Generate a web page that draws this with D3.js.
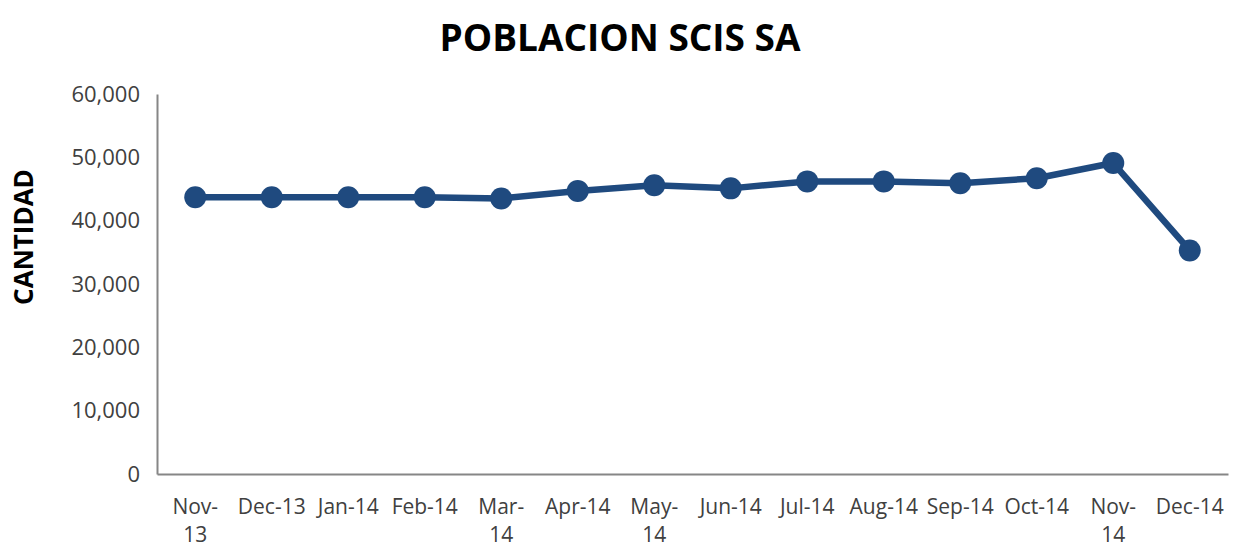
<!doctype html>
<html>
	<head>
		<script type="text/javascript" src="https://cdn.jsdelivr.net/npm/d3@7"></script>
		<style>
			body { margin: 0; background: #fff; }
			text { font-family: "Open Sans", "Liberation Sans", sans-serif; }
		</style>
	</head>
	<body>
		<div id="container"></div>
		<script>
			// months and their printed labels (some wrap onto two lines)
			var months = ["Nov-13","Dec-13","Jan-14","Feb-14","Mar-14","Apr-14","May-14",
				"Jun-14","Jul-14","Aug-14","Sep-14","Oct-14","Nov-14","Dec-14"];
			var monthLabels = [["Nov-","13"],["Dec-13"],["Jan-14"],["Feb-14"],["Mar-","14"],["Apr-14"],["May-","14"],
				["Jun-14"],["Jul-14"],["Aug-14"],["Sep-14"],["Oct-14"],["Nov-","14"],["Dec-14"]];
			var poblacion = [43700,43700,43700,43700,43500,44700,45600,45100,46200,46200,45900,46700,49100,35300];
			var yTicks = [0,10000,20000,30000,40000,50000,60000];

			var W = 1237, H = 549;
			var mLeft = 157, mRight = 1228, mTop = 94, mBottom = 474;

			var svg = d3.select("#container").append("svg")
				.attr("width", W).attr("height", H);

			var x = d3.scaleBand().domain(months).range([mLeft, mRight]);
			var y = d3.scaleLinear().domain([0, 60000]).range([mBottom, mTop]);

			// title
			svg.append("text")
				.attr("x", 620).attr("y", 51)
				.attr("text-anchor", "middle")
				.style("font-size", "37px").style("font-weight", "bold")
				.attr("fill", "#000")
				.text("POBLACION SCIS SA");

			// y axis label
			svg.append("text")
				.attr("transform", "translate(33,237) rotate(-90)")
				.attr("text-anchor", "middle")
				.style("font-size", "26px").style("font-weight", "bold")
				.attr("fill", "#000")
				.text("CANTIDAD");

			// y axis
			var yAxis = svg.append("g")
				.attr("transform", "translate(" + mLeft + ",0)")
				.call(d3.axisLeft(y).tickValues(yTicks).tickSize(0).tickPadding(17)
					.tickFormat(d3.format(",")));
			yAxis.select(".domain").attr("stroke", "#868686").attr("stroke-width", 2);
			yAxis.selectAll("text").style("font-size", "22px").attr("fill", "#404040");

			// x axis
			var xAxis = svg.append("g")
				.attr("transform", "translate(0," + mBottom + ")")
				.call(d3.axisBottom(x).tickSize(0).tickFormat(""));
			xAxis.select(".domain").attr("stroke", "#868686").attr("stroke-width", 2);

			xAxis.selectAll(".tick").each(function(d, i) {
				var t = d3.select(this).append("text")
					.attr("text-anchor", "middle")
					.attr("fill", "#404040")
					.style("font-size", "21px");
				monthLabels[i].forEach(function(line, j) {
					t.append("tspan").attr("x", 0).attr("y", 40 + j * 28).text(line);
				});
			});

			// line + markers
			var cx = function(d, i) { return x(months[i]) + x.bandwidth() / 2; };
			var line = d3.line().x(cx).y(function(d) { return y(d); });

			svg.append("path")
				.datum(poblacion)
				.attr("d", line)
				.attr("fill", "none")
				.attr("stroke", "#1f4a7f")
				.attr("stroke-width", 6.5)
				.attr("stroke-linejoin", "round");

			svg.selectAll("circle.pt")
				.data(poblacion)
				.enter().append("circle")
				.attr("class", "pt")
				.attr("cx", cx)
				.attr("cy", function(d) { return y(d); })
				.attr("r", 11)
				.attr("fill", "#1f4a7f");
		</script>
	</body>
</html>
